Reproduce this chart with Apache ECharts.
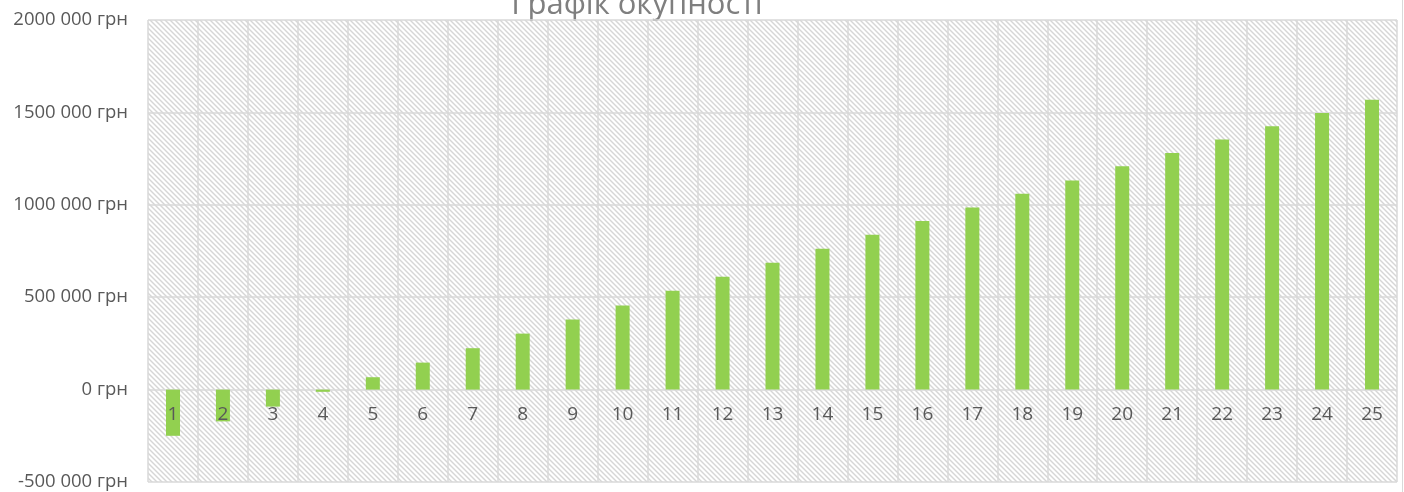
<!DOCTYPE html>
<html>
<head>
<meta charset="utf-8">
<script src="https://cdn.jsdelivr.net/npm/echarts@6/dist/echarts.min.js"></script>
<style>
  html, body { margin: 0; padding: 0; background: #fff; }
  #chart { width: 1404px; height: 492px; }
</style>
</head>
<body>
<div id="chart"></div>
<script>
// дані графіка окупності
const years = ['1', '2', '3', '4', '5', '6', '7', '8', '9', '10', '11', '12', '13',
  '14', '15', '16', '17', '18', '19', '20', '21', '22', '23', '24', '25']
const balance = [-250000, -172000, -92000, -12000, 67000, 146000, 224000, 303000, 379000,
  455000, 535000, 610000, 686000, 762000, 838000, 912000, 986000, 1060000, 1132000,
  1208000, 1280000, 1354000, 1425000, 1497000, 1569000]
const yMin = -500000
const yMax = 2000000
const yStep = 500000
const titleText = 'Графік окупності'

const gridTop = 20
const gridBottom = 10
const plotH = 492 - gridTop - gridBottom
// підписи категорій біля нульової лінії
const zeroOffset = -plotH * (0 - yMin) / (yMax - yMin)

// штриховка фону
function hatch () {
  const c = document.createElement('canvas')
  c.width = 5
  c.height = 5
  const ctx = c.getContext('2d')
  ctx.fillStyle = '#ffffff'
  ctx.fillRect(0, 0, 5, 5)
  ctx.strokeStyle = '#d6d6d6'
  ctx.lineWidth = 1.4
  for (let k = -5; k <= 5; k += 5) {
    ctx.beginPath()
    ctx.moveTo(k - 1, -1)
    ctx.lineTo(k + 6, 6)
    ctx.stroke()
  }
  return c
}

function money (v) {
  if (v === 0) return '0 грн'
  return (v / 1000) + ' 000 грн'
}

const chart = echarts.init(document.getElementById('chart'))
const font = '"Open Sans", sans-serif'

chart.setOption({
  animation: false,
  textStyle: { fontFamily: font },
  graphic: [
    {
      type: 'text',
      x: 637,
      y: 5,
      style: {
        text: titleText,
        fill: '#7f7f7f',
        font: '31px ' + font,
        align: 'center',
        verticalAlign: 'middle'
      }
    },
    {
      type: 'line',
      shape: { x1: 1402.5, y1: 0, x2: 1402.5, y2: 492 },
      style: { stroke: '#d9d9d9', lineWidth: 1 }
    }
  ],
  grid: {
    left: 148,
    right: 7,
    top: gridTop,
    bottom: gridBottom,
    containLabel: false,
    outerBoundsMode: 'none',
    show: true,
    borderWidth: 0,
    backgroundColor: { image: hatch(), repeat: 'repeat' }
  },
  xAxis: {
    type: 'category',
    data: years,
    offset: zeroOffset,
    z: 5,
    axisTick: { show: false },
    axisLine: { show: false, onZero: false },
    axisLabel: { color: '#595959', fontSize: 19, margin: 15, interval: 0, hideOverlap: false },
    splitLine: { show: true, lineStyle: { color: '#d9d9d9', width: 1.5 } }
  },
  yAxis: {
    type: 'value',
    min: yMin,
    max: yMax,
    interval: yStep,
    axisTick: { show: false },
    axisLine: { show: false },
    axisLabel: { color: '#595959', fontSize: 18.5, margin: 20, formatter: money },
    splitLine: { show: true, lineStyle: { color: '#d9d9d9', width: 1.5 } }
  },
  series: [
    {
      type: 'bar',
      data: balance,
      barWidth: 14,
      itemStyle: { color: '#92d050' }
    }
  ]
})
</script>
</body>
</html>
